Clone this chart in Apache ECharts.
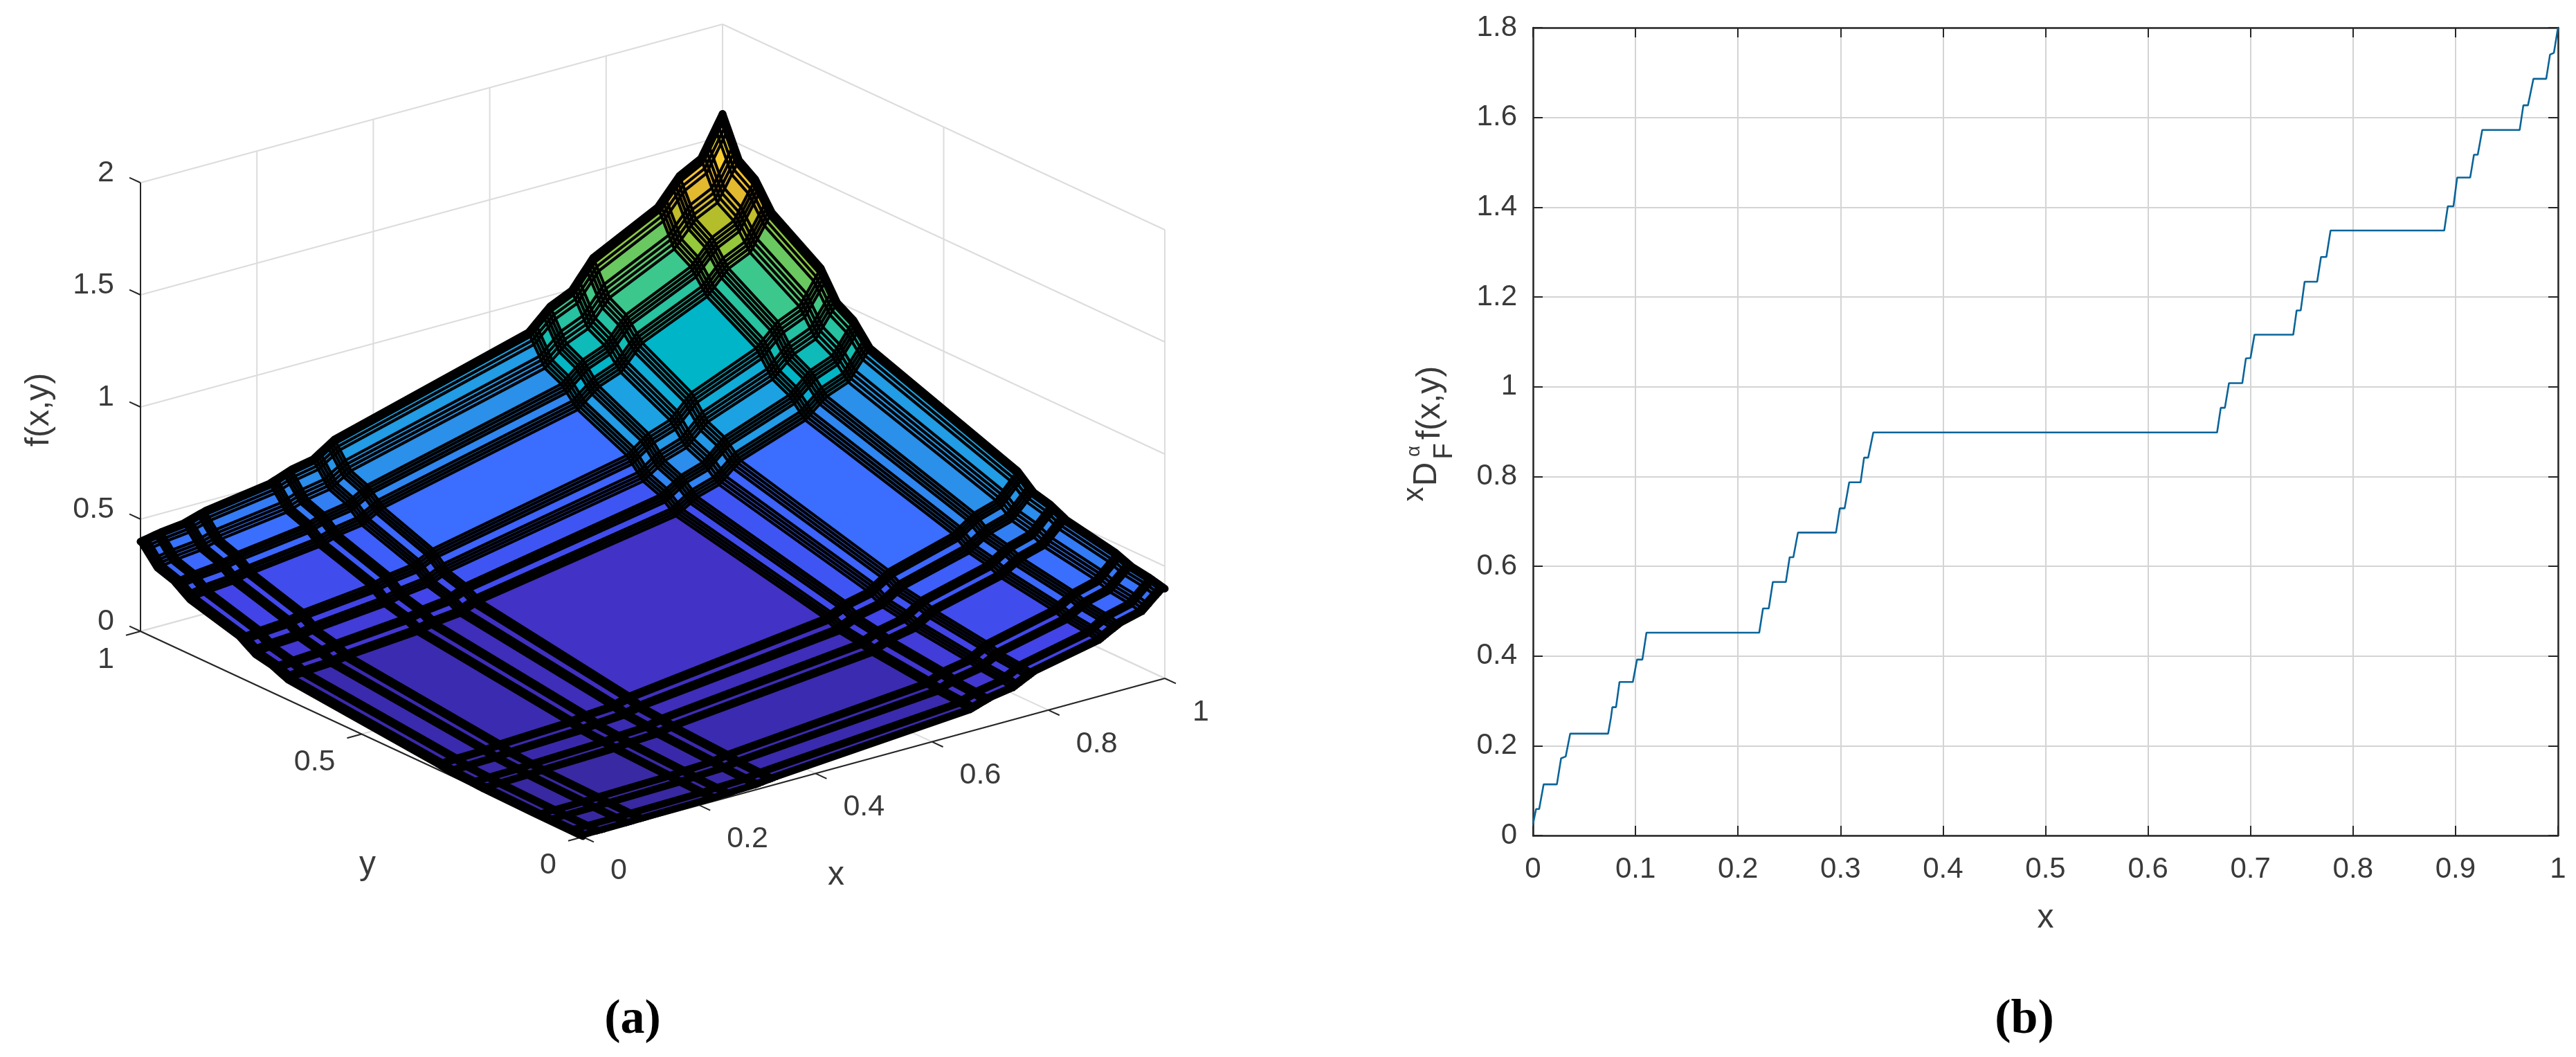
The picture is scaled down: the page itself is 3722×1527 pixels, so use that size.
<!DOCTYPE html>
<html>
<head>
<meta charset="utf-8">
<style>html,body{margin:0;padding:0;background:#fff}#c{width:3722px;height:1527px}</style>
<script src="https://cdn.jsdelivr.net/npm/echarts@6/dist/echarts.min.js"></script>
</head>
<body>
<div id="c"></div>
<script>
// ---------- panel (a): surface values ----------
const surfaceKnots = [0,1/27,2/27,1/9,2/9,7/27,8/27,1/3,2/3,19/27,20/27,7/9,8/9,25/27,26/27,1];
const surfaceZ = [
[0.000,0.000,0.001,0.002,0.006,0.010,0.013,0.024,0.087,0.118,0.133,0.180,0.241,0.292,0.316,0.400],
[0.000,0.001,0.001,0.003,0.008,0.013,0.016,0.029,0.096,0.127,0.144,0.192,0.255,0.308,0.332,0.418],
[0.001,0.001,0.002,0.004,0.010,0.015,0.019,0.031,0.101,0.133,0.150,0.199,0.264,0.317,0.342,0.429],
[0.002,0.003,0.004,0.008,0.014,0.021,0.025,0.040,0.115,0.150,0.167,0.219,0.287,0.342,0.368,0.458],
[0.006,0.008,0.010,0.014,0.023,0.031,0.036,0.053,0.138,0.175,0.194,0.250,0.322,0.380,0.407,0.502],
[0.010,0.013,0.015,0.021,0.031,0.041,0.046,0.066,0.157,0.197,0.217,0.276,0.351,0.412,0.440,0.538],
[0.013,0.016,0.019,0.025,0.036,0.046,0.052,0.072,0.167,0.209,0.229,0.289,0.366,0.428,0.457,0.557],
[0.024,0.029,0.031,0.040,0.053,0.066,0.072,0.096,0.203,0.248,0.270,0.335,0.418,0.484,0.514,0.620],
[0.087,0.096,0.101,0.115,0.138,0.157,0.167,0.203,0.349,0.407,0.436,0.517,0.619,0.699,0.736,0.861],
[0.118,0.127,0.133,0.150,0.175,0.197,0.209,0.248,0.407,0.470,0.501,0.588,0.696,0.781,0.819,0.951],
[0.133,0.144,0.150,0.167,0.194,0.217,0.229,0.270,0.436,0.501,0.533,0.622,0.733,0.820,0.860,0.995],
[0.180,0.192,0.199,0.219,0.250,0.276,0.289,0.335,0.517,0.588,0.622,0.718,0.838,0.930,0.972,1.116],
[0.241,0.255,0.264,0.287,0.322,0.351,0.366,0.418,0.619,0.696,0.733,0.838,0.966,1.065,1.110,1.263],
[0.292,0.308,0.317,0.342,0.380,0.412,0.428,0.484,0.699,0.781,0.820,0.930,1.065,1.170,1.217,1.376],
[0.316,0.332,0.342,0.368,0.407,0.440,0.457,0.514,0.736,0.819,0.860,0.972,1.110,1.217,1.264,1.427],
[0.400,0.418,0.429,0.458,0.502,0.538,0.557,0.620,0.861,0.951,0.995,1.116,1.263,1.376,1.427,1.600]
];
const meshFractions = [0,1/9,2/9,1/3,2/3,7/9,8/9,1];
const xTicks3d = [0,0.2,0.4,0.6,0.8,1];
const xTickLabels3d = ['0','0.2','0.4','0.6','0.8','1'];
const yTicks3d = [0,0.5,1];
const yTickLabels3d = ['0','0.5','1'];
const zTicks3d = [0,0.5,1,1.5,2];
const zTickLabels3d = ['0','0.5','1','1.5','2'];
const colorStops = [[0,'#38289f'],[0.03,'#3a2aae'],[0.1,'#4232c6'],[0.2,'#4246ea'],[0.3,'#3c66fc'],[0.335,'#3b6dff'],[0.484,'#2a90ea'],[0.62,'#18a8e0'],[0.72,'#00b5c8'],[0.84,'#1ec0a8'],[0.93,'#3cc88c'],[1.01,'#64c864'],[1.1,'#96c83c'],[1.17,'#b4be2a'],[1.3,'#f0b830'],[1.38,'#fcd030'],[1.6,'#f9fb15']];

// ---------- panel (b): staircase ----------
const stairX = [0,0.003,0.006,0.0104,0.0233,0.0274,0.0319,0.0363,0.0733,0.076,0.0774,0.081,0.0844,0.0974,0.1015,0.1067,0.1107,0.2207,0.2244,0.23,0.234,0.2467,0.2504,0.254,0.2585,0.2956,0.2993,0.304,0.3085,0.3196,0.323,0.327,0.332,0.6674,0.671,0.675,0.679,0.692,0.6955,0.7,0.7039,0.7417,0.7435,0.745,0.749,0.7528,0.765,0.7688,0.774,0.7781,0.889,0.8925,0.898,0.9016,0.9143,0.916,0.918,0.9217,0.9261,0.9626,0.9662,0.9707,0.976,0.9885,0.9922,0.996,1];
const stairY = [0.026,0.059,0.059,0.114,0.114,0.172,0.176,0.227,0.227,0.262,0.286,0.286,0.342,0.342,0.392,0.392,0.452,0.452,0.506,0.506,0.565,0.565,0.62,0.62,0.675,0.675,0.729,0.729,0.787,0.787,0.842,0.842,0.898,0.898,0.953,0.953,1.008,1.008,1.063,1.064,1.116,1.116,1.145,1.17,1.17,1.234,1.234,1.289,1.289,1.348,1.348,1.402,1.402,1.466,1.466,1.489,1.517,1.517,1.572,1.572,1.627,1.627,1.686,1.686,1.74,1.744,1.8];
const xTickLabels2d = ['0','0.1','0.2','0.3','0.4','0.5','0.6','0.7','0.8','0.9','1'];
const yTickLabels2d = ['0','0.2','0.4','0.6','0.8','1','1.2','1.4','1.6','1.8'];

// ---------- the 3D view: a parallel projection onto a flat plane ----------
const VIEW = {o:[842,1209], ex:[841,-229], ey:[-639,-297], ez:[0,-324]};
function proj(x,y,z){
  return [VIEW.o[0]+x*VIEW.ex[0]+y*VIEW.ey[0]+z*VIEW.ez[0],
          VIEW.o[1]+x*VIEW.ex[1]+y*VIEW.ey[1]+z*VIEW.ez[1]];
}
// mesh positions: each Cantor band carries its finer mesh lines
const mesh = [];
for(let i=0;i<surfaceKnots.length-1;i++){
  if(i%2===0){ meshFractions.slice(0,-1).forEach(f=>mesh.push([i,f])); }
  else { mesh.push([i,0]); }
}
mesh.push([surfaceKnots.length-2,1]);
function meshPos(m){ return surfaceKnots[m[0]]+(surfaceKnots[m[0]+1]-surfaceKnots[m[0]])*m[1]; }
function meshZ(mx,my){
  const a=surfaceZ[mx[0]][my[0]],b=surfaceZ[mx[0]+1][my[0]],c=surfaceZ[mx[0]][my[0]+1],d=surfaceZ[mx[0]+1][my[0]+1];
  return (a*(1-mx[1])+b*mx[1])*(1-my[1])+(c*(1-mx[1])+d*mx[1])*my[1];
}
function vert(ix,iy){ return proj(meshPos(mesh[ix]),meshPos(mesh[iy]),meshZ(mesh[ix],mesh[iy])); }
function hex(h){return [1,3,5].map(i=>parseInt(h.substr(i,2),16));}
function colorOf(z){
  for(let i=1;i<colorStops.length;i++){
    if(z<=colorStops[i][0]){
      const t=(z-colorStops[i-1][0])/(colorStops[i][0]-colorStops[i-1][0]);
      const a=hex(colorStops[i-1][1]),b=hex(colorStops[i][1]);
      return 'rgb('+a.map((v,k)=>Math.round(v+(b[k]-v)*t)).join(',')+')';
    }
  }
  return colorStops[colorStops.length-1][1];
}
const quadData=[];
for(let ix=mesh.length-2;ix>=0;ix--) for(let iy=mesh.length-2;iy>=0;iy--) quadData.push([ix,iy]);
const lineData=[];
for(let k=0;k<mesh.length;k++){ lineData.push([0,k]); lineData.push([1,k]); }
const last=mesh.length-1;
function meshWidth(dir,k){
  if(k===last) return 11;           // back edges x=1 and y=1
  if(k===0) return dir===0?9:4;     // x=0 edge heavier than y=0 edge
  return 4.2;
}

// box: walls, floor, axes and ticks
const GRID='#dcdcdc', AXIS='#262626';
const boxSegs=[];
function seg(a,b,c,w){boxSegs.push({a,b,c,w});}
xTicks3d.forEach(x=>{ seg([x,1,0],[x,1,2],GRID,2); seg([x,0,0],[x,1,0],GRID,2); });
yTicks3d.forEach(y=>{ seg([1,y,0],[1,y,2],GRID,2); seg([0,y,0],[1,y,0],GRID,2); });
zTicks3d.forEach(z=>{ seg([0,1,z],[1,1,z],GRID,2); seg([1,0,z],[1,1,z],GRID,2); });
seg([0,0,0],[1,0,0],AXIS,2); seg([0,0,0],[0,1,0],AXIS,2); seg([0,1,0],[0,1,2],AXIS,2);
xTicks3d.forEach(x=>seg([x,0,0],[x,-0.025,0],AXIS,2));
yTicks3d.forEach(y=>seg([0,y,0],[-0.025,y,0],AXIS,2));
zTicks3d.forEach(z=>seg([0,1,z],[0,1.025,z],AXIS,2));

// 3D axis texts
const FONT='"Liberation Sans", Arial, sans-serif', INK='#3a3a3a';
const texts3d=[];
xTicks3d.forEach((x,i)=>{const p=proj(x,0,0);texts3d.push({t:xTickLabels3d[i],x:p[0]+40,y:p[1]+49,a:'left',s:43});});
yTicks3d.forEach((y,i)=>{const p=proj(0,y,0);texts3d.push({t:yTickLabels3d[i],x:p[0]-38,y:p[1]+41,a:'right',s:43});});
zTicks3d.forEach((z,i)=>{const p=proj(0,1,z);texts3d.push({t:zTickLabels3d[i],x:p[0]-38,y:p[1]-14,a:'right',s:43});});
texts3d.push({t:'x',x:1208,y:1265,a:'center',s:48});
texts3d.push({t:'y',x:531,y:1250,a:'center',s:48});
texts3d.push({t:'f(x,y)',x:57,y:592,a:'center',s:48,r:Math.PI/2});

function idx(n){return Array.from({length:n},(_,i)=>[i]);}
const planeAxes={xAxisIndex:0,yAxisIndex:0,coordinateSystem:'cartesian2d',type:'custom',silent:true,animation:false,progressive:0,clip:false};

function rotText(t,x,y,size,fam){
  return {type:'text',x,y,rotation:Math.PI/2,silent:true,
    style:{text:t,textAlign:'center',textVerticalAlign:'middle',fill:INK,fontSize:size,fontFamily:fam||FONT}};
}
const axisCommon={lineStyle:{color:AXIS,width:2.5}};
const chart=echarts.init(document.getElementById('c'),null,{renderer:'canvas'});
chart.setOption({
  animation:false,
  backgroundColor:'#fff',
  title:[
    {text:'{r|(}{b|a}{r|)}',left:909,top:1434,textAlign:'center',textStyle:{rich:{r:{fontFamily:'"Liberation Serif"',fontSize:70,color:'#000'},b:{fontFamily:'"Liberation Serif"',fontSize:70,fontWeight:'bold',color:'#000'}}}},
    {text:'{r|(}{b|b}{r|)}',left:2920,top:1434,textAlign:'center',textStyle:{rich:{r:{fontFamily:'"Liberation Serif"',fontSize:70,color:'#000'},b:{fontFamily:'"Liberation Serif"',fontSize:70,fontWeight:'bold',color:'#000'}}}}
  ],
  grid:[
    {left:0,top:0,width:1860,height:1527},
    {left:2215,top:40,width:1481,height:1167,show:false}
  ],
  xAxis:[
    {gridIndex:0,type:'value',min:0,max:1860,show:false},
    {gridIndex:1,type:'value',min:0,max:1,interval:0.1,name:'x',nameLocation:'middle',nameGap:96,
     nameTextStyle:{fontFamily:FONT,fontSize:48,color:INK},
     axisLine:{show:true,onZero:false,...axisCommon},
     axisTick:{show:true,inside:true,length:14,lineStyle:{color:AXIS,width:2}},
     axisLabel:{show:true,margin:28,fontFamily:FONT,fontSize:42,color:INK,formatter:(v)=>xTickLabels2d[Math.round(v*10)]},
     splitLine:{show:true,lineStyle:{color:'#d4d4d4',width:2}}},
    {gridIndex:1,type:'value',position:'top',min:0,max:1,interval:0.1,
     axisLine:{show:true,onZero:false,...axisCommon},
     axisTick:{show:true,inside:true,length:14,lineStyle:{color:AXIS,width:2}},
     axisLabel:{show:false},splitLine:{show:false}}
  ],
  yAxis:[
    {gridIndex:0,type:'value',min:0,max:1527,inverse:true,show:false},
    {gridIndex:1,type:'value',min:0,max:1.8,interval:0.2,
     axisLine:{show:true,onZero:false,...axisCommon},
     axisTick:{show:true,inside:true,length:14,lineStyle:{color:AXIS,width:2}},
     axisLabel:{show:true,margin:23,fontFamily:FONT,fontSize:42,color:INK,formatter:(v)=>yTickLabels2d[Math.round(v*5)]},
     splitLine:{show:true,lineStyle:{color:'#d4d4d4',width:2}}},
    {gridIndex:1,type:'value',position:'right',min:0,max:1.8,interval:0.2,
     axisLine:{show:true,onZero:false,...axisCommon},
     axisTick:{show:true,inside:true,length:14,lineStyle:{color:AXIS,width:2}},
     axisLabel:{show:false},splitLine:{show:false}}
  ],
  graphic:{elements:[
    rotText('x',2044,714,42),
    rotText('D',2062,685,48),
    rotText('\u03B1',2043,652,28),
    rotText('F',2088,652,38),
    rotText('f(x,y)',2067,582,48)
  ]},
  series:[
    {...planeAxes,name:'box',data:idx(boxSegs.length),z:1,
     renderItem:(p,api)=>{
       const s=boxSegs[api.value(0)];
       const a=api.coord(proj(...s.a)),b=api.coord(proj(...s.b));
       return {type:'line',shape:{x1:a[0],y1:a[1],x2:b[0],y2:b[1]},style:{stroke:s.c,lineWidth:s.w},silent:true};
     }},
    {...planeAxes,name:'surface',data:quadData,z:2,
     renderItem:(p,api)=>{
       const ix=api.value(0),iy=api.value(1);
       const pts=[vert(ix,iy),vert(ix+1,iy),vert(ix+1,iy+1),vert(ix,iy+1)].map(q=>api.coord(q));
       return {type:'polygon',shape:{points:pts},style:{fill:colorOf(meshZ(mesh[ix],mesh[iy]))},silent:true};
     }},
    {...planeAxes,name:'mesh',data:lineData,z:3,
     renderItem:(p,api)=>{
       const dir=api.value(0),k=api.value(1);
       const pts=mesh.map((_,n)=>api.coord(dir===0?vert(k,n):vert(n,k)));
       return {type:'polyline',shape:{points:pts},style:{stroke:'#000',lineWidth:meshWidth(dir,k),fill:'none',lineJoin:'round',lineCap:'round'},silent:true};
     }},
    {...planeAxes,name:'axisText',data:idx(texts3d.length),z:4,
     renderItem:(p,api)=>{
       const t=texts3d[api.value(0)];
       const c=api.coord([t.x,t.y]);
       return {type:'text',x:c[0],y:c[1],rotation:t.r||0,silent:true,
         style:{text:t.t,textAlign:t.a,textVerticalAlign:'middle',fill:INK,fontSize:t.s,fontFamily:FONT}};
     }},
    {type:'line',name:'staircase',xAxisIndex:1,yAxisIndex:1,showSymbol:false,silent:true,z:5,
     lineStyle:{color:'#0a6499',width:2.6},
     data:stairX.map((x,i)=>[x,stairY[i]])}
  ]
});
</script>
</body>
</html>
